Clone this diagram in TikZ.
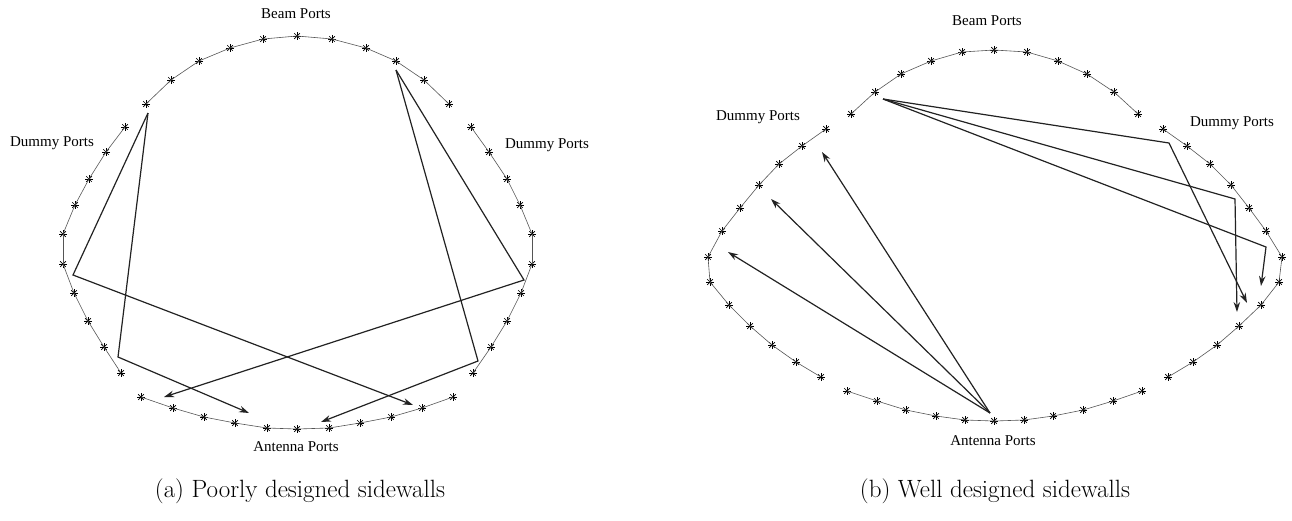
\documentclass[tikz,border=0pt]{standalone}
\usepackage{fontspec}
\newfontfamily\portfont{Liberation Serif}
\usepackage{xcolor}
\definecolor{wallgray}{HTML}{555555}
\definecolor{raydark}{HTML}{222222}
\usepackage{tikz}
\usetikzlibrary{arrows.meta, positioning, calc}

% one arc of ports: asterisk marks joined by a thin wall line
\newcommand{\portarc}[2]{%
  \foreach \px/\py [count=\i] in {#2} {
    \node[port] (#1-\i) at (\px,\py) {};
    \ifnum\i>1
      \pgfmathtruncatemacro\j{\i-1}
      \draw[wall] (#1-\j.center) -- (#1-\i.center);
    \fi
  }}

\begin{document}
\begin{tikzpicture}[x=1pt, y=-1pt, >={Stealth[length=10pt, width=6.5pt]},
  port/.style={inner sep=0pt, minimum size=9pt,
    path picture={
      \foreach \ang in {0,45,90,135}
        \draw[line width=0.7pt, black]
          ($(path picture bounding box.center)+(\ang:4pt)$) --
          ($(path picture bounding box.center)+(\ang+180:4pt)$);}},
  wall/.style={line width=0.6pt, wallgray},
  ray/.style={line width=1.2pt, raydark},
  portlabel/.style={font=\portfont\fontsize{15}{18}\selectfont},
  caption/.style={font=\fontsize{25}{30}\selectfont}]

  \useasboundingbox (0,0) rectangle (1292,520);

  % (a) poorly designed sidewalls
  \portarc{a-beam}{146/104,171/80,199/61,230/48,263/39,297/36,332/39,366/48,396/61,424/80,449/104}
  \portarc{a-dl}{125/127,106/152,89/179,75/205,63/234,63/264,74/293,88/321,104/347,121/373}
  \portarc{a-dr}{471/127,489/152,507/179,520/205,532/234,532/264,521/293,507/321,491/347,473/373}
  \portarc{a-ant}{141/397,173/408,204/417,235/423,267/428,297/429,329/428,360/423,391/417,422/408,453/397}

  \node[portlabel] (a-beamlbl) at (296,14) {Beam Ports};
  \node[portlabel] (a-dllbl) at (52,143) {Dummy Ports};
  \node[portlabel] (a-drlbl) at (547,145) {Dummy Ports};
  \node[portlabel] (a-antlbl) at (296,447) {Antenna Ports};

  \coordinate (a-src1) at ([shift={(2,9)}]a-beam-1.center);
  \coordinate (a-src2) at ([shift={(0,9)}]a-beam-9.center);
  \coordinate (a-bend1) at (73,275);
  \coordinate (a-bend2) at (118,357);
  \coordinate (a-bend3) at (478,361);
  \coordinate (a-bend4) at (524,280);
  \coordinate (a-tip1) at (413,405);
  \coordinate (a-tip2) at (249,413);
  \coordinate (a-tip3) at (321,422);
  \coordinate (a-tip4) at (164,397);

  \draw[ray, ->] (a-src1) -- (a-bend1) -- (a-tip1);
  \draw[ray, ->] (a-src1) -- (a-bend2) -- (a-tip2);
  \draw[ray, ->] (a-src2) -- (a-bend3) -- (a-tip3);
  \draw[ray, ->] (a-src2) -- (a-bend4) -- (a-tip4);

  \node[caption] (a-cap) at (300,491) {(a) Poorly designed sidewalls};

  % (b) well designed sidewalls
  \portarc{b-beam}{851/114,875/92,901/74,931/61,962/52,994/50,1027/52,1058/61,1087/74,1114/92,1138/114}
  \portarc{b-dl}{826/129,802/146,779/164,759/185,740/208,722/231,708/257,710/282,729/305,750/326,772/345,796/362,821/377}
  \portarc{b-dr}{1163/129,1187/146,1210/164,1231/185,1249/208,1266/231,1282/257,1279/282,1261/305,1239/326,1217/345,1193/362,1168/377}
  \portarc{b-ant}{847/391,877/401,906/410,936/416,965/420,994/421,1024/420,1053/416,1083/410,1113/401,1142/391}

  \node[portlabel] (b-beamlbl) at (987,21) {Beam Ports};
  \node[portlabel] (b-dllbl) at (758,117) {Dummy Ports};
  \node[portlabel] (b-drlbl) at (1232,123) {Dummy Ports};
  \node[portlabel] (b-antlbl) at (993,441) {Antenna Ports};

  \coordinate (b-src1) at ([shift={(-4,-8)}]b-ant-6.center);
  \coordinate (b-src2) at ([shift={(8,7)}]b-beam-2.center);
  \coordinate (b-bend4) at (1169,143);
  \coordinate (b-bend5) at (1235,199);
  \coordinate (b-bend6) at (1266,247);
  \coordinate (b-tip1) at (728,252);
  \coordinate (b-tip2) at (771,199);
  \coordinate (b-tip3) at (822,152);
  \coordinate (b-tip4) at (1247,303);
  \coordinate (b-tip5) at (1237,312);
  \coordinate (b-tip6) at (1261,286);

  \draw[ray, ->] (b-src1) -- (b-tip1);
  \draw[ray, ->] (b-src1) -- (b-tip2);
  \draw[ray, ->] (b-src1) -- (b-tip3);
  \draw[ray, ->] (b-src2) -- (b-bend4) -- (b-tip4);
  \draw[ray, ->] (b-src2) -- (b-bend5) -- (b-tip5);
  \draw[ray, ->] (b-src2) -- (b-bend6) -- (b-tip6);

  \node[caption] (b-cap) at (995,491) {(b) Well designed sidewalls};

\end{tikzpicture}
\end{document}
